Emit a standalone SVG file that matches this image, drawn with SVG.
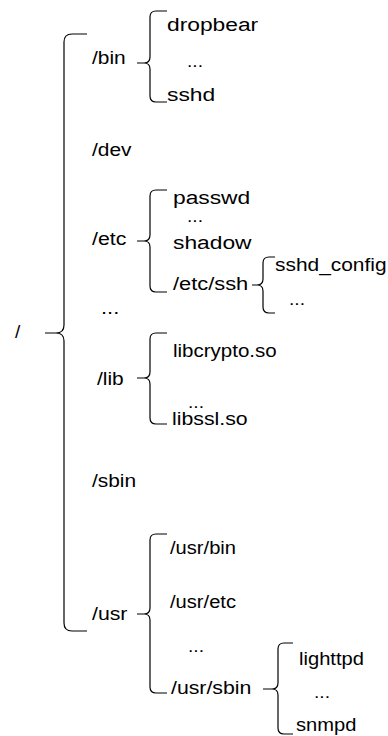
<svg xmlns="http://www.w3.org/2000/svg" width="388" height="736" viewBox="0 0 388 736">
<style>
text{font-family:"Liberation Sans",Arial,Helvetica,sans-serif;font-size:19px;fill:#000}
.d{font-size:16px}
.b{fill:none;stroke:#000;stroke-width:1.2}
</style>
<rect width="388" height="736" fill="#fff"/>
<g id="connectors">
<path class="b" d="M87,34 H72 Q64,34 64,42 V325 Q64,333 56,333 H45 M56,333 Q64,333 64,341 V623 Q64,631 72,631 H87"/>
<path class="b" d="M167,11 H156 Q150,11 150,17 V57 Q150,63 144,63 H137 M144,63 Q150,63 150,69 V96 Q150,102 156,102 H167"/>
<path class="b" d="M167,190 H156 Q150,190 150,196 V235 Q150,241 144,241 H137 M144,241 Q150,241 150,247 V286 Q150,292 156,292 H167"/>
<path class="b" d="M275,257 H269 Q263,257 263,263 V279 Q263,285 257,285 H252 M257,285 Q263,285 263,291 V307 Q263,313 269,313 H275"/>
<path class="b" d="M167,333 H156 Q150,333 150,339 V372 Q150,378 144,378 H137 M144,378 Q150,378 150,384 V418 Q150,424 156,424 H167"/>
<path class="b" d="M167,534 H156 Q150,534 150,540 V608 Q150,614 144,614 H137 M144,614 Q150,614 150,620 V687 Q150,693 156,693 H167"/>
<path class="b" d="M293,643 H284 Q278,643 278,649 V683 Q278,689 272,689 H263 M272,689 Q278,689 278,695 V728 Q278,734 284,734 H293"/>
</g>
<g id="root"><text x="15" y="338">/</text></g>
<g id="bin"><text transform="matrix(1.1 0 0 1 92 64)">/bin</text></g>
<g id="bin-children">
<text transform="matrix(1.2 0 0 1 167 31)">dropbear</text>
<text class="d" transform="matrix(1.2 0 0 1 187 67)">...</text>
<text transform="matrix(1.2 0 0 1 167 101)">sshd</text>
</g>
<g id="dev"><text transform="matrix(1.1 0 0 1 92 156)">/dev</text></g>
<g id="etc"><text transform="matrix(1.12 0 0 1 92 245)">/etc</text></g>
<g id="etc-children">
<text transform="matrix(1.2 0 0 1 173 204)">passwd</text>
<text class="d" transform="matrix(1.2 0 0 1 187 222)">...</text>
<text transform="matrix(1.2 0 0 1 173 249)">shadow</text>
<text transform="matrix(1.15 0 0 1 173 290)">/etc/ssh</text>
</g>
<g id="ssh-children">
<text transform="matrix(1.1 0 0 1 275 271)">sshd_config</text>
<text class="d" transform="matrix(1.2 0 0 1 289 305)">...</text>
</g>
<g id="more"><text transform="matrix(1.15 0 0 1 101 314)">...</text></g>
<g id="lib"><text transform="matrix(1.1 0 0 1 97 385)">/lib</text></g>
<g id="lib-children">
<text transform="matrix(1.08 0 0 1 173 357)">libcrypto.so</text>
<text class="d" transform="matrix(1.2 0 0 1 188 408)">...</text>
<text transform="matrix(1.12 0 0 1 172 425)">libssl.so</text>
</g>
<g id="sbin"><text transform="matrix(1.1 0 0 1 92 487)">/sbin</text></g>
<g id="usr"><text transform="matrix(1.12 0 0 1 92 620)">/usr</text></g>
<g id="usr-children">
<text transform="matrix(1.06 0 0 1 170 554)">/usr/bin</text>
<text transform="matrix(1.06 0 0 1 170 608)">/usr/etc</text>
<text class="d" transform="matrix(1.2 0 0 1 188 652)">...</text>
<text transform="matrix(1.12 0 0 1 171 694)">/usr/sbin</text>
</g>
<g id="usrsbin-children">
<text transform="matrix(1.06 0 0 1 299 665)">lighttpd</text>
<text class="d" transform="matrix(1.2 0 0 1 314 698)">...</text>
<text transform="matrix(1.06 0 0 1 296 731)">snmpd</text>
</g>
</svg>
